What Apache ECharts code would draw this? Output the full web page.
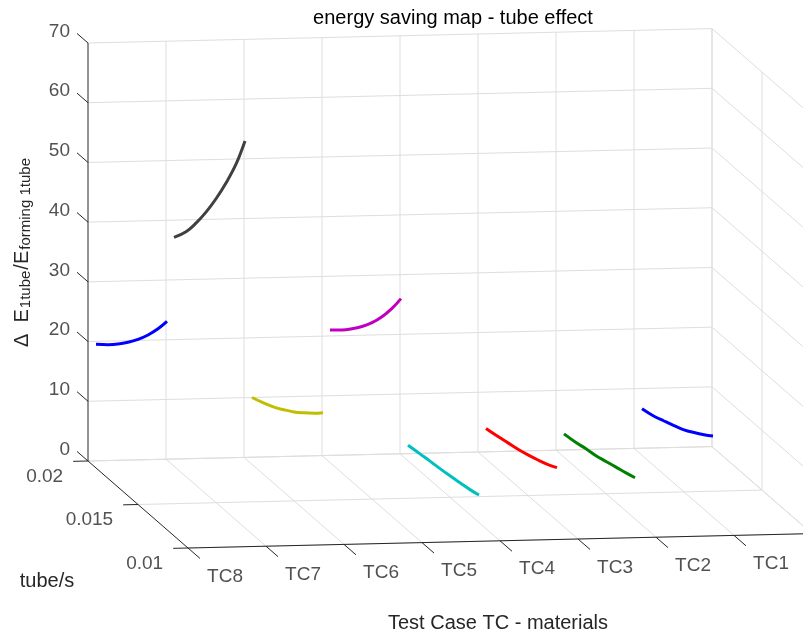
<!DOCTYPE html>
<html>
<head>
<meta charset="utf-8">
<script src="https://cdn.jsdelivr.net/npm/echarts@6/dist/echarts.min.js"></script>
<style>
html, body { margin: 0; padding: 0; background: #fff; }
#main { width: 803px; height: 639px; }
</style>
</head>
<body>
<div id="main"></div>
<script>
// test cases, left to right along the TC axis
var tcLabels = ['TC8', 'TC7', 'TC6', 'TC5', 'TC4', 'TC3', 'TC2', 'TC1'];
var tubeTicks = [0.01, 0.015, 0.02];
var zTicks = [0, 10, 20, 30, 40, 50, 60, 70];

// tube/s samples of every curve
var tubeRate = [0.0121, 0.0130, 0.0140, 0.0150, 0.0160, 0.0170, 0.0180, 0.0192];
// dE_1tube / E_forming 1tube
var savingTC8 = [34.9, 32.35, 29.85, 27.65, 25.7, 23.95, 22.4, 20.7];
var savingTC7 = [64.8, 59.6, 55.0, 50.9, 47.2, 43.9, 41.0, 38.3];
var savingTC6 = [19.0, 17.6, 16.2, 14.9, 13.8, 12.8, 12.0, 11.2];
var savingTC5 = [37.8, 34.85, 32.0, 29.55, 27.45, 25.6, 23.95, 22.2];
var savingTC4 = [4.6, 4.2, 3.9, 3.6, 3.35, 3.15, 2.9, 2.6];
var savingTC3 = [8.9, 8.1, 7.4, 6.8, 6.3, 5.9, 5.5, 5.1];
var savingTC2 = [6.9, 6.4, 5.9, 5.4, 4.9, 4.6, 4.2, 3.9];
var savingTC1 = [13.6, 12.5, 11.4, 10.4, 9.65, 8.96, 8.3, 7.8];
var curveColors = ['#0000ff', '#404040', '#bfbf00', '#bf00bf', '#00bfbf', '#ff0000', '#008000', '#0000ff'];

var FONT = 'Liberation Sans, Arial, Helvetica, sans-serif';
var TXT = '#262626';

// fixed 3d view -> page pixels (orthographic, like matlab view)
var ORIGIN = [88, 461];          // TC8 / 0.02 tube/s / 0
var EX = [78, -1.8];             // one test case step
var EY = [100, 87];              // from 0.02 to 0.01 tube/s
var EZ = -418 / 70;              // per unit of the vertical axis
function proj(p, t, z) {
    var f = (0.02 - t) / 0.01;
    return [ORIGIN[0] + EX[0] * p + EY[0] * f, ORIGIN[1] + EX[1] * p + EY[1] * f + EZ * z];
}

var nTC = tcLabels.length;
var zMax = zTicks[zTicks.length - 1];
var gridSegs = [], axisSegs = [];
function seg(list, a, b) { list.push(a.concat(b)); }

for (var p = 1; p <= nTC; p++) {
    seg(gridSegs, proj(p, 0.02, 0), proj(p, 0.02, zMax));   // back wall
    seg(gridSegs, proj(p, 0.02, 0), proj(p, 0.01, 0));      // floor
}
zTicks.forEach(function (z) {
    seg(gridSegs, proj(0, 0.02, z), proj(nTC, 0.02, z));
    seg(gridSegs, proj(nTC, 0.02, z), proj(nTC, 0.01, z));  // right wall
});
tubeTicks.forEach(function (t) {
    seg(gridSegs, proj(0, t, 0), proj(nTC, t, 0));
    seg(gridSegs, proj(nTC, t, 0), proj(nTC, t, zMax));
});

// axis lines and ticks
seg(axisSegs, proj(0, 0.02, 0), proj(0, 0.02, zMax));
seg(axisSegs, proj(0, 0.02, 0), proj(0, 0.01, 0));
seg(axisSegs, proj(0, 0.01, 0), proj(nTC, 0.01, 0));
zTicks.forEach(function (z) { seg(axisSegs, proj(0, 0.02, z), proj(0, 0.0211, z)); });
tubeTicks.forEach(function (t) { seg(axisSegs, proj(0, t, 0), proj(-0.19, t, 0)); });
tcLabels.forEach(function (l, i) { seg(axisSegs, proj(i, 0.01, 0), proj(i, 0.0088, 0)); });

function segSeries(data, color, z) {
    return {
        type: 'custom',
        coordinateSystem: 'cartesian2d',
        encode: { x: [0, 2], y: [1, 3] },
        data: data,
        z: z,
        silent: true,
        renderItem: function (params, api) {
            var a = api.coord([api.value(0), api.value(1)]);
            var b = api.coord([api.value(2), api.value(3)]);
            return {
                type: 'line',
                shape: { x1: a[0], y1: a[1], x2: b[0], y2: b[1] },
                style: { stroke: color, lineWidth: 1 }
            };
        }
    };
}

function labelSeries(data, pos, align) {
    return {
        type: 'scatter',
        symbolSize: 0,
        data: data,
        z: 5,
        silent: true,
        label: {
            show: true, formatter: '{b}', position: pos, align: align, verticalAlign: 'middle',
            fontSize: 19, fontFamily: FONT, color: TXT
        }
    };
}

var series = [segSeries(gridSegs, '#dedede', 1), segSeries(axisSegs, TXT, 2)];

var curves = [savingTC8, savingTC7, savingTC6, savingTC5, savingTC4, savingTC3, savingTC2, savingTC1];
curves.forEach(function (vals, i) {
    series.push({
        name: tcLabels[i],
        type: 'line',
        z: 3,
        showSymbol: false,
        smooth: 0.4,
        data: tubeRate.map(function (t, k) { return proj(i, t, vals[k]); }),
        lineStyle: { width: 3, color: curveColors[i] },
        itemStyle: { color: curveColors[i] }
    });
});

series.push(labelSeries(zTicks.map(function (z) {
    return { name: String(z), value: proj(0, 0.0211, z) };
}), [-7, -2], 'right'));
series.push(labelSeries(tubeTicks.map(function (t) {
    return { name: String(t), value: proj(-0.19, t, 0) };
}), [-10, 15], 'right'));
series.push(labelSeries(tcLabels.map(function (l, i) {
    return { name: l, value: proj(i, 0.0088, 0) };
}), [25, 18], 'center'));

var myChart = echarts.init(document.getElementById('main'));
var option = {
    animation: false,
    backgroundColor: '#fff',
    title: {
        text: 'energy saving map - tube effect',
        left: 448, top: 3, textAlign: 'center',
        textStyle: { fontSize: 20, fontWeight: 'normal', color: '#000', fontFamily: FONT }
    },
    grid: { left: 0, right: 0, top: 0, bottom: 0 },
    xAxis: { type: 'value', min: 0, max: 803, show: false },
    yAxis: { type: 'value', min: 0, max: 639, inverse: true, show: false },
    graphic: [
        {
            type: 'text', x: 47, y: 581,
            style: { text: 'tube/s', fontSize: 20, fontFamily: FONT, fill: TXT, textAlign: 'center', textVerticalAlign: 'middle', align: 'center', verticalAlign: 'middle' }
        },
        {
            type: 'text', x: 498, y: 623,
            style: { text: 'Test Case TC - materials', fontSize: 20, fontFamily: FONT, fill: TXT, textAlign: 'center', textVerticalAlign: 'middle', align: 'center', verticalAlign: 'middle' }
        },
        {
            type: 'text', x: 23, y: 253, rotation: Math.PI / 2,
            style: {
                text: '{m|\u0394  E}{s|1tube}{m|/E}{s|forming 1tube}',
                fontFamily: FONT, fill: TXT,
                textAlign: 'center', textVerticalAlign: 'middle', align: 'center', verticalAlign: 'middle',
                rich: {
                    m: { fontSize: 20, fontFamily: FONT, fill: TXT, color: TXT, lineHeight: 21, padding: [0, 1, 0, 1], verticalAlign: 'top' },
                    s: { fontSize: 15, fontFamily: FONT, fill: TXT, color: TXT, lineHeight: 16, padding: [14, 0, 0, 0], verticalAlign: 'bottom' }
                }
            }
        }
    ],
    series: series
};
myChart.setOption(option);
</script>
</body>
</html>
